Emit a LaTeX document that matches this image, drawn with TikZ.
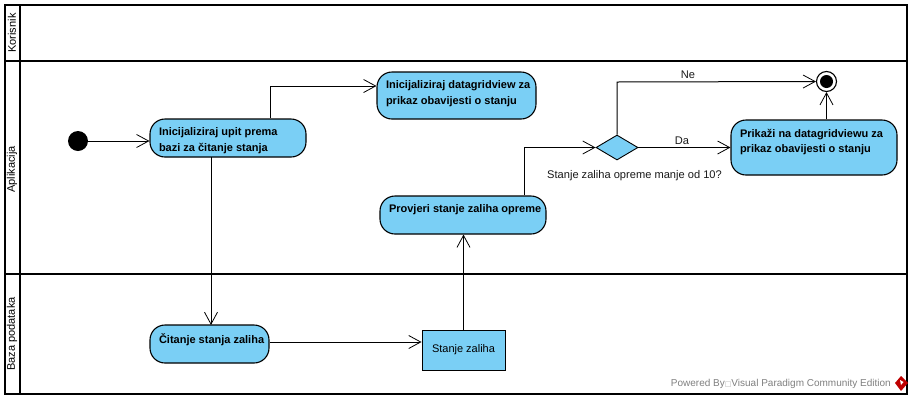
\documentclass[tikz,border=0pt]{standalone}
\usepackage{fontspec}
\setmainfont{Liberation Sans}
\newfontfamily\symfam{DejaVu Sans}
\usetikzlibrary{arrows.meta,shapes.geometric}
\definecolor{actblue}{HTML}{7ACFF5}
\newcommand{\acttext}[3]{\parbox[c][#2pt][t]{#1pt}{\vspace*{9pt}\leftskip=9pt\rightskip=0pt plus 1fil\parindent=0pt\fontsize{11}{15.3}\bfseries\selectfont #3\par}}
\tikzset{
  lane/.style={draw=black,line width=2pt},
  act/.style={draw=black,fill=actblue,line width=1.1pt,rounded corners=15pt,inner sep=0pt},
  flow/.style={draw=black,line width=1pt,-{Straight Barb[length=12pt,width=13pt,line width=0.8pt]}},
  lab/.style={font=\fontsize{11.1}{12}\selectfont,inner sep=0pt,text=black!90},
  lanelab/.style={font=\fontsize{11}{12}\selectfont,inner sep=0pt,rotate=90}
}
\begin{document}
\begin{tikzpicture}[x=1pt,y=-1pt]
\useasboundingbox (0,0) rectangle (914,400);
\fill[white] (0,0) rectangle (914,400);
% swimlanes
\coordinate (tl) at (4.5,4.5);
\coordinate (br) at (907,394);
\draw[lane] (tl) rectangle (br);
\draw[lane] (19.5,4.5) -- (19.5,394);
\draw[lane] (4.5,61) -- (907,61);
\draw[lane] (4.5,274) -- (907,274);
\node[lanelab] (lk) at (12,33) {Korisnik};
\node[lanelab] (la) at (12,169.5) {Aplikacija};
\node[lanelab] (lb) at (12,334) {Baza podataka};
% nodes
\node[circle,fill=black,minimum size=20pt,inner sep=0pt] (start) at (78,141) {};
\node[act] (a1) at (228,138) {\acttext{156}{38}{Inicijaliziraj upit prema\\bazi za čitanje stanja}};
\node[act] (a2) at (456.5,95.5) {\acttext{159}{47}{Inicijaliziraj datagridview za\\prikaz obavijesti o stanju}};
\node[act] (a3) at (463,215) {\acttext{166}{38}{Provjeri stanje zaliha opreme}};
\node[act] (a4) at (814,147.5) {\acttext{166}{55}{Prikaži na datagridviewu za\\prikaz obavijesti o stanju}};
\node[act] (a5) at (209.5,344) {\acttext{119}{38}{Čitanje stanja zaliha}};
\node[draw=black,fill=actblue,line width=0.9pt,minimum width=83pt,minimum height=40pt,inner sep=0pt,font=\fontsize{11}{12}\selectfont] (obj) at (463.5,350) {Stanje zaliha};
\node[diamond,draw=black,fill=actblue,line width=0.9pt,minimum width=42pt,minimum height=25pt,inner sep=0pt,aspect=1.68] (dec) at (617,147.5) {};
\node[circle,draw=black,fill=white,line width=1.1pt,minimum size=20pt,inner sep=0pt] (fin) at (826.5,81.5) {};
\node[circle,fill=black,minimum size=13pt,inner sep=0pt] at (fin.center) {};
% bend points
\coordinate (b1) at (270,86);
\coordinate (b2) at (524,147.5);
\coordinate (b3) at (617,82);
% connectors
\draw[flow] (start) -- (start -| a1.west);
\draw[flow] (b1 |- a1.north) -- (b1) -- (a2.west |- b1);
\draw[flow] (211,157) -- (211,325);
\draw[flow] (a5.east |- 0,342) -- (obj.west |- 0,342);
\draw[flow] (obj.north) -- (a3.south -| obj.north);
\draw[flow] (b2 |- a3.north) -- (b2) -- (dec.west);
\draw[flow] (dec.north) -- (b3) -- (fin.west);
\draw[flow] (dec.east) -- (a4.west |- dec.east);
\draw[flow] (a4.north -| fin) -- (fin.south);
% labels
\node[lab] (ne) at (688,75) {Ne};
\node[lab] (da) at (682,141) {Da};
\node[lab,anchor=west] (cond) at (547,175.5) {Stanje zaliha opreme manje od 10?};
\node[anchor=east,inner sep=0pt,font=\fontsize{10}{12}\selectfont,text=black!50] (pw) at (891,383.5) {Powered By{\symfam\fontsize{7}{8}\selectfont\color{black!30} □}Visual Paradigm Community Edition};
% logo
\fill[red!75!black] (901,376) -- (908,383) -- (901,391) -- (895,383) -- cycle;
\fill[white] (900,380) -- (903.5,382) -- (901,385) -- cycle;
\end{tikzpicture}
\end{document}
